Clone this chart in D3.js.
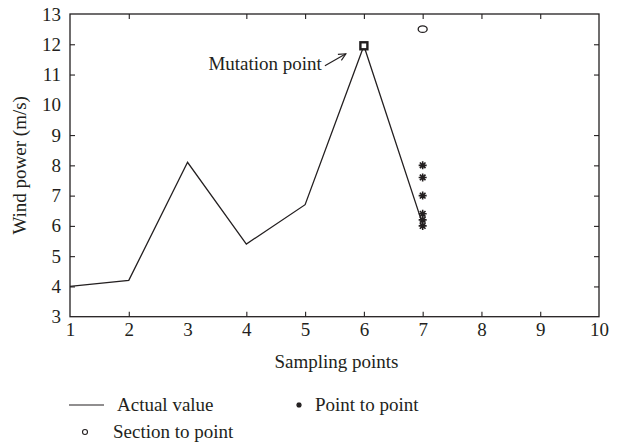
<!DOCTYPE html>
<html>
<head>
<meta charset="utf-8">
<script src="https://cdn.jsdelivr.net/npm/d3@7"></script>
<style>
  html, body { margin: 0; padding: 0; background: #fff; }
  svg text { font-family: "Liberation Serif", "DejaVu Serif", serif; fill: #231f20; }
</style>
</head>
<body>
<svg id="chart" width="624" height="447"></svg>
<script>
// Sampling points and the actual wind series
const samplingPoints = [1, 2, 3, 4, 5, 6, 7];
const actualValues = [4.0, 4.2, 8.1, 5.4, 6.7, 11.95, 6.05];

// Predictions at sampling point 7
const pointToPointX = 7;
const pointToPointValues = [8.0, 7.6, 7.0, 6.4, 6.2, 6.0];
const sectionToPointX = 7;
const sectionToPointValues = [12.5];

// Highlighted mutation point
const mutationX = 6;
const mutationY = 11.95;

const xTicks = [1, 2, 3, 4, 5, 6, 7, 8, 9, 10];
const yTicks = [3, 4, 5, 6, 7, 8, 9, 10, 11, 12, 13];

const ink = "#231f20";
const fontSize = 19;

const svg = d3.select("#chart");
const plotLeft = 70, plotRight = 599, plotTop = 14, plotBottom = 316.7;

const x = d3.scaleLinear().domain([1, 10]).range([plotLeft, plotRight]);
const y = d3.scaleLinear().domain([3, 13]).range([plotBottom, plotTop]);

// Box with inward ticks on all four sides
const tickLen = 5;
const axisG = svg.append("g");
axisG.append("rect")
  .attr("x", plotLeft).attr("y", plotTop)
  .attr("width", plotRight - plotLeft).attr("height", plotBottom - plotTop)
  .attr("fill", "none").attr("stroke", ink).attr("stroke-width", 1.3);

function styleAxis(g) {
  g.select(".domain").remove();
  g.selectAll(".tick line").attr("stroke", ink).attr("stroke-width", 1.1);
  g.selectAll(".tick text").attr("font-size", fontSize).attr("fill", ink)
    .style("font-family", '"Liberation Serif", "DejaVu Serif", serif');
}

axisG.append("g").attr("transform", `translate(0,${plotBottom})`)
  .call(d3.axisBottom(x).tickValues(xTicks).tickFormat(d3.format("d"))
    .tickSizeInner(-tickLen).tickSizeOuter(0).tickPadding(6))
  .call(styleAxis);
axisG.append("g").attr("transform", `translate(0,${plotTop})`)
  .call(d3.axisTop(x).tickValues(xTicks).tickFormat("")
    .tickSizeInner(-tickLen).tickSizeOuter(0))
  .call(styleAxis);
axisG.append("g").attr("transform", `translate(${plotLeft},0)`)
  .call(d3.axisLeft(y).tickValues(yTicks).tickFormat(d3.format("d"))
    .tickSizeInner(-tickLen).tickSizeOuter(0).tickPadding(9))
  .call(styleAxis);
axisG.append("g").attr("transform", `translate(${plotRight},0)`)
  .call(d3.axisRight(y).tickValues(yTicks).tickFormat("")
    .tickSizeInner(-tickLen).tickSizeOuter(0))
  .call(styleAxis);

// Hide ticks that sit on the box corners
axisG.selectAll(".tick line").filter(function () {
  const t = d3.select(this.parentNode).datum();
  return t === 1 || t === 10 || t === 3 || t === 13;
}).attr("stroke", "none");

// Axis titles
svg.append("text")
  .attr("x", (plotLeft + plotRight) / 2 + 2).attr("y", 368)
  .attr("text-anchor", "middle").attr("font-size", fontSize)
  .text("Sampling points");
svg.append("text")
  .attr("transform", `translate(26,${(plotTop + plotBottom) / 2}) rotate(-90)`)
  .attr("text-anchor", "middle").attr("font-size", fontSize)
  .text("Wind power (m/s)");

// Actual value line
const line = d3.line().x((d, i) => x(samplingPoints[i])).y(d => y(d));
svg.append("path")
  .datum(actualValues)
  .attr("d", line)
  .attr("fill", "none").attr("stroke", ink).attr("stroke-width", 1.3)
  .attr("stroke-linejoin", "miter");

// Eight-armed asterisk symbol
const star8 = {
  draw(ctx, size) {
    const r = Math.sqrt(size) / 2;
    const d = r * Math.SQRT1_2;
    ctx.moveTo(-r, 0); ctx.lineTo(r, 0);
    ctx.moveTo(0, -r); ctx.lineTo(0, r);
    ctx.moveTo(-d, -d); ctx.lineTo(d, d);
    ctx.moveTo(-d, d); ctx.lineTo(d, -d);
  }
};

svg.append("g").selectAll("path")
  .data(pointToPointValues)
  .join("path")
  .attr("transform", d => `translate(${x(pointToPointX)},${y(d)})`)
  .attr("d", d3.symbol(star8, 64))
  .attr("fill", "none").attr("stroke", ink).attr("stroke-width", 1.6);

// Section-to-point marker
svg.append("g").selectAll("ellipse")
  .data(sectionToPointValues)
  .join("ellipse")
  .attr("cx", x(sectionToPointX)).attr("cy", d => y(d))
  .attr("rx", 4.5).attr("ry", 3.2)
  .attr("fill", "none").attr("stroke", ink).attr("stroke-width", 1.3);

// Mutation point marker and label
svg.append("rect")
  .attr("x", x(mutationX) - 3.5).attr("y", y(mutationY) - 3.5)
  .attr("width", 7).attr("height", 7)
  .attr("fill", "#fff").attr("stroke", ink).attr("stroke-width", 2.4);

svg.append("text")
  .attr("x", x(mutationX) - 42).attr("y", y(mutationY) + 24)
  .attr("text-anchor", "end").attr("font-size", fontSize)
  .text("Mutation point");

// Arrow pointing at the mutation point
const ax0 = x(mutationX) - 39, ay0 = y(mutationY) + 20;
const ax1 = x(mutationX) - 18, ay1 = y(mutationY) + 8;
svg.append("line")
  .attr("x1", ax0).attr("y1", ay0).attr("x2", ax1).attr("y2", ay1)
  .attr("stroke", ink).attr("stroke-width", 1.1);
const ang = Math.atan2(ay1 - ay0, ax1 - ax0);
const hl = 8, ha = 0.45;
svg.append("path")
  .attr("d", `M${ax1 - hl * Math.cos(ang - ha)},${ay1 - hl * Math.sin(ang - ha)}L${ax1},${ay1}L${ax1 - hl * Math.cos(ang + ha)},${ay1 - hl * Math.sin(ang + ha)}`)
  .attr("fill", "none").attr("stroke", ink).attr("stroke-width", 1.1);

// Legend
const legend = svg.append("g");
legend.append("line")
  .attr("x1", 69).attr("x2", 104).attr("y1", 405).attr("y2", 405)
  .attr("stroke", ink).attr("stroke-width", 1.1);
legend.append("text").attr("x", 117).attr("y", 411)
  .attr("font-size", fontSize).text("Actual value");

legend.append("path")
  .attr("transform", "translate(299,405)")
  .attr("d", d3.symbol(star8, 30))
  .attr("fill", "none").attr("stroke", ink).attr("stroke-width", 1.4);
legend.append("text").attr("x", 315).attr("y", 411)
  .attr("font-size", fontSize).text("Point to point");

legend.append("circle")
  .attr("cx", 85).attr("cy", 432).attr("r", 2.5)
  .attr("fill", "none").attr("stroke", ink).attr("stroke-width", 1.1);
legend.append("text").attr("x", 113).attr("y", 438)
  .attr("font-size", fontSize).text("Section to point");
</script>
</body>
</html>
